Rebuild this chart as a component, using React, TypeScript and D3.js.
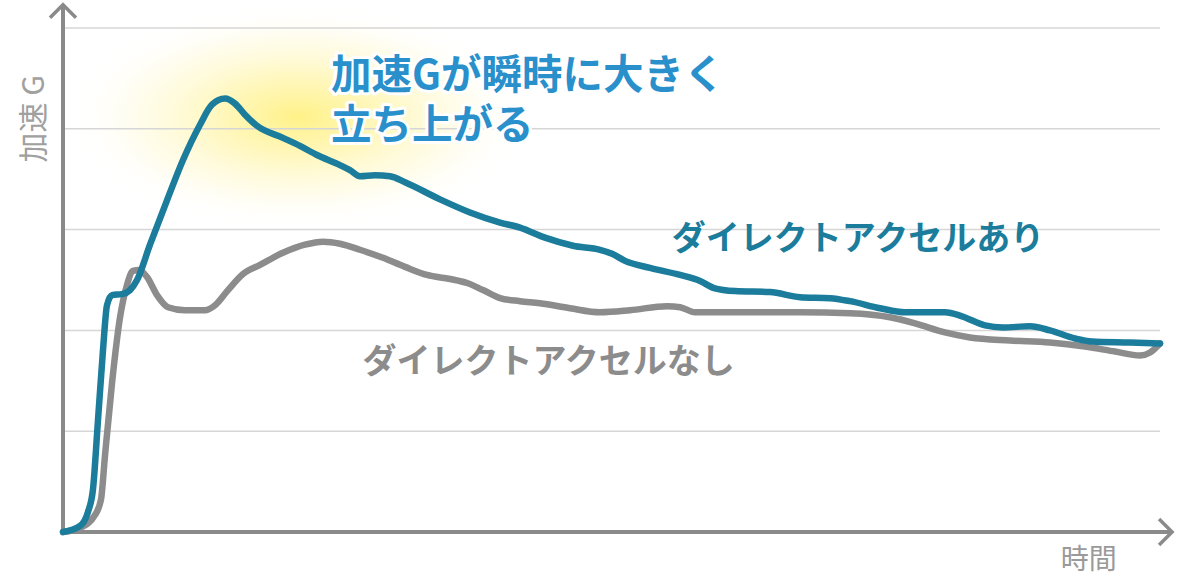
import React from "react";
import * as d3 from "d3";

const gridValues = [1, 2, 3, 4, 5];

const withTime = [0, 1.55, 2.28, 2.73, 3.19, 3.65, 4.01, 4.47, 5.38, 6.11, 6.75, 7.93, 9.48, 10.94, 12.49, 13.58, 14.77, 15.68, 16.59, 17.68, 20.05, 21.6, 23.15, 25.25, 26.16, 27.07, 28.44, 29.81, 31.18, 34.37, 37.1, 39.84, 41.66, 43.94, 46.49, 48.95, 50.05, 51.23, 53.51, 56.25, 58.07, 59.34, 61.26, 64.45, 67.18, 69.92, 71.74, 74.48, 76.75, 80.4, 81.95, 84.05, 85.69, 88.15, 89.97, 92.25, 93.8, 97.27, 100];
const withG = [0, 0.06, 0.2, 0.42, 1.11, 1.81, 2.25, 2.35, 2.36, 2.4, 2.5, 2.85, 3.29, 3.69, 4.04, 4.24, 4.3, 4.25, 4.14, 4.03, 3.91, 3.83, 3.74, 3.64, 3.59, 3.53, 3.54, 3.53, 3.47, 3.3, 3.17, 3.07, 3.02, 2.92, 2.84, 2.8, 2.76, 2.69, 2.62, 2.55, 2.49, 2.42, 2.39, 2.38, 2.33, 2.32, 2.29, 2.22, 2.18, 2.18, 2.14, 2.05, 2.03, 2.04, 2.0, 1.92, 1.89, 1.88, 1.87];

const withoutTime = [0, 1.55, 2.92, 3.46, 3.83, 4.47, 5.2, 5.83, 6.38, 6.93, 7.66, 8.57, 9.57, 11.12, 12.94, 13.86, 15.04, 16.41, 17.96, 20.05, 22.06, 23.7, 25.25, 27.07, 29.17, 31.18, 33.18, 35.28, 36.83, 38.29, 39.84, 41.66, 43.48, 46.22, 48.95, 51.69, 55.06, 56.25, 57.61, 59.89, 67.18, 71.74, 75.39, 77.67, 80.4, 82.68, 86.33, 89.97, 93.16, 95.9, 98.18, 99.09, 100];
const withoutG = [0, 0.04, 0.17, 0.32, 0.76, 1.48, 2.13, 2.45, 2.59, 2.6, 2.53, 2.35, 2.23, 2.2, 2.2, 2.25, 2.4, 2.56, 2.65, 2.77, 2.85, 2.88, 2.86, 2.8, 2.72, 2.63, 2.55, 2.51, 2.47, 2.4, 2.32, 2.29, 2.27, 2.22, 2.18, 2.2, 2.24, 2.23, 2.18, 2.18, 2.18, 2.17, 2.13, 2.07, 1.98, 1.93, 1.9, 1.88, 1.84, 1.79, 1.75, 1.78, 1.87];

const seriesLabels = ["ダイレクトアクセルあり", "ダイレクトアクセルなし"];
const yAxisLabel = "加速 G";
const xAxisLabel = "時間";
const calloutLines = ["加速Gが瞬時に大きく", "立ち上がる"];

const W = 1200;
const H = 576;
const FONT = "'Noto Sans CJK JP', 'Noto Sans', sans-serif";

export default function App() {
  const x = d3.scaleLinear().domain([0, 100]).range([63, 1160]);
  const y = d3.scaleLinear().domain([0, 5]).range([532, 28]);

  const line = d3
    .line<[number, number]>()
    .x((d) => x(d[0]))
    .y((d) => y(d[1]))
    .curve(d3.curveMonotoneX);

  const withData = withTime.map((t, i) => [t, withG[i]] as [number, number]);
  const withoutData = withoutTime.map((t, i) => [t, withoutG[i]] as [number, number]);

  const axisColor = "#8a8a8a";
  const blue = "#1b7c9b";
  const grayLine = "#8c8c8c";

  const x0 = x(0);
  const y0 = y(0);
  const xEnd = x(101.1);
  const yTop = y(5.23);

  return (
    <svg
      width={W}
      height={H}
      style={{ position: "absolute", left: 0, top: 0, display: "block", background: "#fff" }}
    >
      <defs>
        <radialGradient id="glow" cx="50%" cy="50%" r="50%">
          <stop offset="0%" stopColor="#fff07a" stopOpacity={0.9} />
          <stop offset="35%" stopColor="#fff39a" stopOpacity={0.65} />
          <stop offset="70%" stopColor="#fff8c8" stopOpacity={0.35} />
          <stop offset="100%" stopColor="#ffffff" stopOpacity={0} />
        </radialGradient>
      </defs>
      <rect width={W} height={H} fill="#fff" />

      {/* glow */}
      <ellipse cx={x(21.5)} cy={y(4.12)} rx={232} ry={112} fill="url(#glow)" />

      {/* grid */}
      {gridValues.map((v) => (
        <line key={v} x1={x0 + 2} x2={x(100)} y1={y(v)} y2={y(v)} stroke="#d6d6d6" strokeWidth={1.5} />
      ))}

      {/* axes */}
      <line x1={x0} x2={x0} y1={y0 + 2} y2={yTop} stroke={axisColor} strokeWidth={4} />
      <line x1={x0 - 2} x2={xEnd} y1={y0} y2={y0} stroke={axisColor} strokeWidth={4} />
      <polyline
        points={`${x0 - 13},${yTop + 13} ${x0},${yTop} ${x0 + 13},${yTop + 13}`}
        fill="none"
        stroke={axisColor}
        strokeWidth={3.5}
      />
      <polyline
        points={`${xEnd - 13},${y0 - 13} ${xEnd},${y0} ${xEnd - 13},${y0 + 13}`}
        fill="none"
        stroke={axisColor}
        strokeWidth={3.5}
      />

      {/* lines */}
      <path d={line(withoutData) || ""} fill="none" stroke={grayLine} strokeWidth={6.5} strokeLinecap="round" strokeLinejoin="round" />
      <path d={line(withData) || ""} fill="none" stroke={blue} strokeWidth={6.5} strokeLinecap="round" strokeLinejoin="round" />

      {/* axis labels */}
      <text
        transform={`translate(${x0 - 19},${y(4.1)}) rotate(-90)`}
        textAnchor="middle"
        fontFamily={FONT}
        fontSize={30}
        fill="#a0a0a0"
      >
        {yAxisLabel}
      </text>
      <text x={x(93.5)} y={569} textAnchor="middle" fontFamily={FONT} fontSize={28} fill="#9a9a9a">
        {xAxisLabel}
      </text>

      {/* callout */}
      {calloutLines.map((s, i) => (
        <text
          key={i}
          x={331}
          y={89 + i * 50}
          fontFamily={FONT}
          fontWeight={700}
          fontSize={40.5}
          fill="#2990cc"
          stroke="#fff"
          strokeWidth={6}
          strokeLinejoin="round"
          style={{ paintOrder: "stroke" }}
        >
          {s}
        </text>
      ))}

      {/* series labels */}
      <text x={x(55.5)} y={250} fontFamily={FONT} fontWeight={700} fontSize={34} fill={blue}>
        {seriesLabels[0]}
      </text>
      <text x={x(27.3)} y={373} fontFamily={FONT} fontWeight={700} fontSize={34} fill={grayLine}>
        {seriesLabels[1]}
      </text>
    </svg>
  );
}
